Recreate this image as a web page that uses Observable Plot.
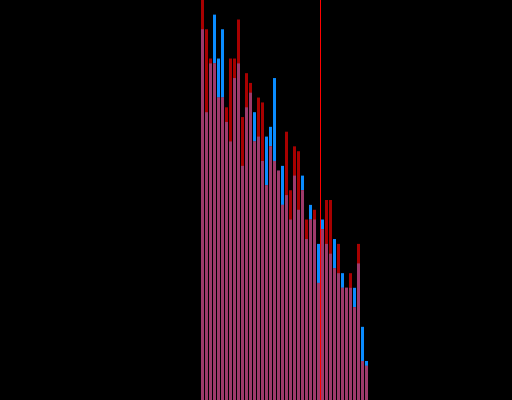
<!DOCTYPE html>
<html>
<head>
<meta charset="utf-8">
<script src="https://cdn.jsdelivr.net/npm/d3@7"></script>
<script src="https://cdn.jsdelivr.net/npm/@observablehq/plot@0.6"></script>
<style>
  html, body { margin: 0; padding: 0; background: #000; }
  #chart svg { display: block; }
</style>
</head>
<body>
<div id="chart"></div>
<script>
// Bin index (left edge of each bin)
const bins = [0,1,2,3,4,5,6,7,8,9,10,11,12,13,14,15,16,17,18,19,20,
              21,22,23,24,25,26,27,28,29,30,31,32,33,34,35,36,37,38,39,40,41];
// Counts of the red series per bin
const redCounts = [82,76,70,69,62,62,60,70,70,78,58,67,65,53,62,61,44,52,49,47,40,
                   55,43,52,51,43,37,37,39,24,35,41,41,27,32,23,23,26,19,32,8,7];
// Counts of the blue series per bin
const blueCounts = [76,59,69,79,70,76,57,53,66,69,48,60,63,59,54,49,54,56,66,47,48,
                    42,37,46,39,46,33,40,37,32,37,32,30,33,26,26,23,23,23,28,15,8];
// Position of the vertical marker line (in bin units)
const markerValue = 29.75;

const blueColor = "#0a8cff";
const redColor = "#a80000";
const overlapColor = "#9e3a6b";

const data = bins.map((b, i) => ({bin: b, red: redCounts[i], blue: blueCounts[i]}));

const chart = Plot.plot({
  width: 512,
  height: 400,
  margin: 0,
  style: {background: "#000"},
  x: {type: "linear", domain: [-50.25, 77.75], axis: null},
  y: {domain: [0, 82], axis: null},
  marks: [
    Plot.rectY(data, {x1: "bin", x2: d => d.bin + 1, y1: 0, y2: "blue", fill: blueColor, insetLeft: 0, insetRight: 1}),
    Plot.rectY(data, {x1: "bin", x2: d => d.bin + 1, y1: 0, y2: "red", fill: redColor, insetLeft: 0, insetRight: 1}),
    Plot.rectY(data, {x1: "bin", x2: d => d.bin + 1, y1: 0, y2: d => Math.min(d.red, d.blue), fill: overlapColor, insetLeft: 0, insetRight: 1}),
    Plot.ruleX([markerValue], {stroke: "#ff0000", strokeWidth: 1})
  ]
});
document.getElementById("chart").appendChild(chart);
</script>
</body>
</html>
